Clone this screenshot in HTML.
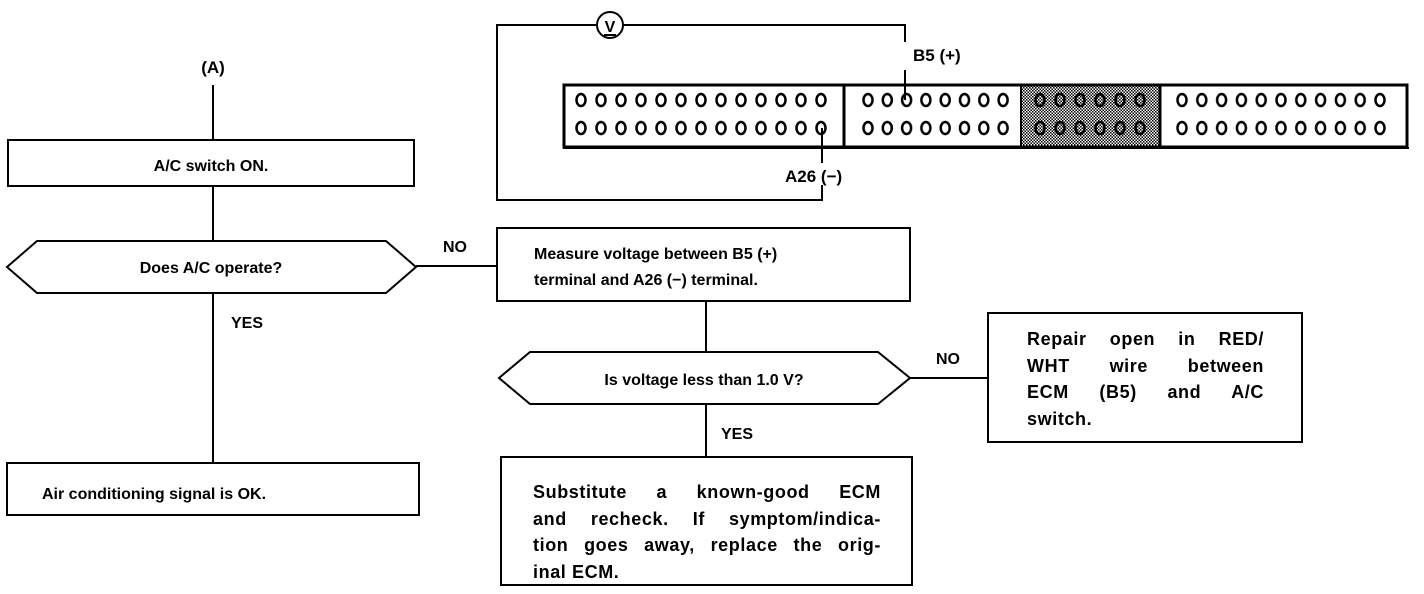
<!DOCTYPE html>
<html><head><meta charset="utf-8"><style>
html,body{margin:0;padding:0;background:#fff;}
svg{display:block;}
text{font-family:"Liberation Sans",sans-serif;font-weight:bold;fill:#000;}
.j{position:absolute;font-family:"Liberation Sans",sans-serif;font-weight:bold;font-size:18px;letter-spacing:0.6px;line-height:26.5px;color:#000;}
.j span{display:block;text-align:justify;text-align-last:justify;white-space:nowrap;}
.j span.l{text-align-last:left;}
</style></head><body>
<div style="position:relative;width:1424px;height:594px;">
<svg width="1424" height="594" viewBox="0 0 1424 594" xmlns="http://www.w3.org/2000/svg">
<defs>
<pattern id="pL" patternUnits="userSpaceOnUse" x="571" y="86" width="20" height="28"><ellipse cx="10" cy="14" rx="4.5" ry="6" fill="none" stroke="#000" stroke-width="2.5"/></pattern>
<pattern id="pM" patternUnits="userSpaceOnUse" x="858.35" y="86" width="19.3" height="28"><ellipse cx="9.65" cy="14" rx="4.5" ry="6" fill="none" stroke="#000" stroke-width="2.5"/></pattern>
<pattern id="pS" patternUnits="userSpaceOnUse" x="1030" y="86" width="20" height="28"><ellipse cx="10" cy="14" rx="4.5" ry="6" fill="none" stroke="#000" stroke-width="2.5"/></pattern>
<pattern id="pR" patternUnits="userSpaceOnUse" x="1172.1" y="86" width="19.8" height="28"><ellipse cx="9.9" cy="14" rx="4.5" ry="6" fill="none" stroke="#000" stroke-width="2.5"/></pattern>
<pattern id="hatch" patternUnits="userSpaceOnUse" width="3" height="3"><rect width="3" height="3" fill="#fff"/><rect width="1.5" height="1.5" fill="#000"/><rect x="1.5" y="1.5" width="1.5" height="1.5" fill="#000"/></pattern>
</defs>

<g stroke="#000" fill="none" stroke-width="2">
<line x1="213" y1="85" x2="213" y2="140"/>
<rect x="8" y="140" width="406" height="46"/>
<line x1="213" y1="186" x2="213" y2="241"/>
<polygon points="7,267 37,241 386,241 416,267 386,293 37,293"/>
<line x1="416" y1="266" x2="497" y2="266"/>
<line x1="213" y1="293" x2="213" y2="463"/>
<rect x="7" y="463" width="412" height="52"/>
<rect x="497" y="228" width="413" height="73"/>
<line x1="706" y1="301" x2="706" y2="352"/>
<polygon points="499,378 530,352 878,352 910,378 878,404 530,404"/>
<line x1="910" y1="378" x2="988" y2="378"/>
<rect x="988" y="313" width="314" height="129"/>
<line x1="706" y1="404" x2="706" y2="457"/>
<rect x="501" y="457" width="411" height="128"/>
<polyline points="597,25 497,25 497,200 822,200 822,185"/>
<polyline points="623,25 905,25 905,42"/>
<line x1="905" y1="70" x2="905" y2="100"/>
<line x1="822" y1="128" x2="822" y2="163"/>
<circle cx="610" cy="25" r="13"/>
</g>
<line x1="604" y1="35" x2="616" y2="35" stroke="#000" stroke-width="2"/>
<text x="610" y="32" font-size="16" text-anchor="middle">V</text>

<rect x="1021" y="86" width="139" height="60" fill="url(#hatch)"/>
<rect x="571" y="86" width="260" height="56" fill="url(#pL)"/>
<rect x="858" y="86" width="155" height="56" fill="url(#pM)"/>
<rect x="1030" y="86" width="120" height="56" fill="url(#pS)"/>
<rect x="1172" y="86" width="218" height="56" fill="url(#pR)"/>
<rect x="564" y="85" width="843" height="62" fill="none" stroke="#000" stroke-width="3"/>
<line x1="563" y1="148" x2="1409" y2="148" stroke="#000" stroke-width="2"/>
<line x1="844" y1="85" x2="844" y2="147" stroke="#000" stroke-width="3"/>
<line x1="1021" y1="85" x2="1021" y2="147" stroke="#000" stroke-width="2"/>
<line x1="1160" y1="85" x2="1160" y2="147" stroke="#000" stroke-width="3"/>

<text x="213" y="73" font-size="17" text-anchor="middle">(A)</text>
<text x="913" y="61" font-size="17">B5 (+)</text>
<text x="785" y="182" font-size="17">A26 (−)</text>
<text x="211" y="171" font-size="16" text-anchor="middle" font-weight="normal">A/C switch ON.</text>
<text x="211" y="273" font-size="16" text-anchor="middle" font-weight="normal">Does A/C operate?</text>
<text x="443" y="252" font-size="16" font-weight="normal">NO</text>
<text x="231" y="328" font-size="16" font-weight="normal">YES</text>
<text x="42" y="499" font-size="16">Air conditioning signal is OK.</text>
<text x="534" y="259" font-size="16" font-weight="normal">Measure voltage between B5 (+)</text>
<text x="534" y="285" font-size="16" font-weight="normal">terminal and A26 (−) terminal.</text>
<text x="704" y="385" font-size="16" text-anchor="middle" font-weight="normal">Is voltage less than 1.0 V?</text>
<text x="936" y="364" font-size="16" font-weight="normal">NO</text>
<text x="721" y="439" font-size="16" font-weight="normal">YES</text>
</svg>
<div class="j" style="left:1027px;top:326px;width:237px;"><span>Repair open in RED/</span><span>WHT wire between</span><span>ECM (B5) and A/C</span><span class="l">switch.</span></div>
<div class="j" style="left:533px;top:479px;width:348px;"><span>Substitute a known-good ECM</span><span>and recheck. If symptom/indica-</span><span>tion goes away, replace the orig-</span><span class="l">inal ECM.</span></div>
</div>
</body></html>
